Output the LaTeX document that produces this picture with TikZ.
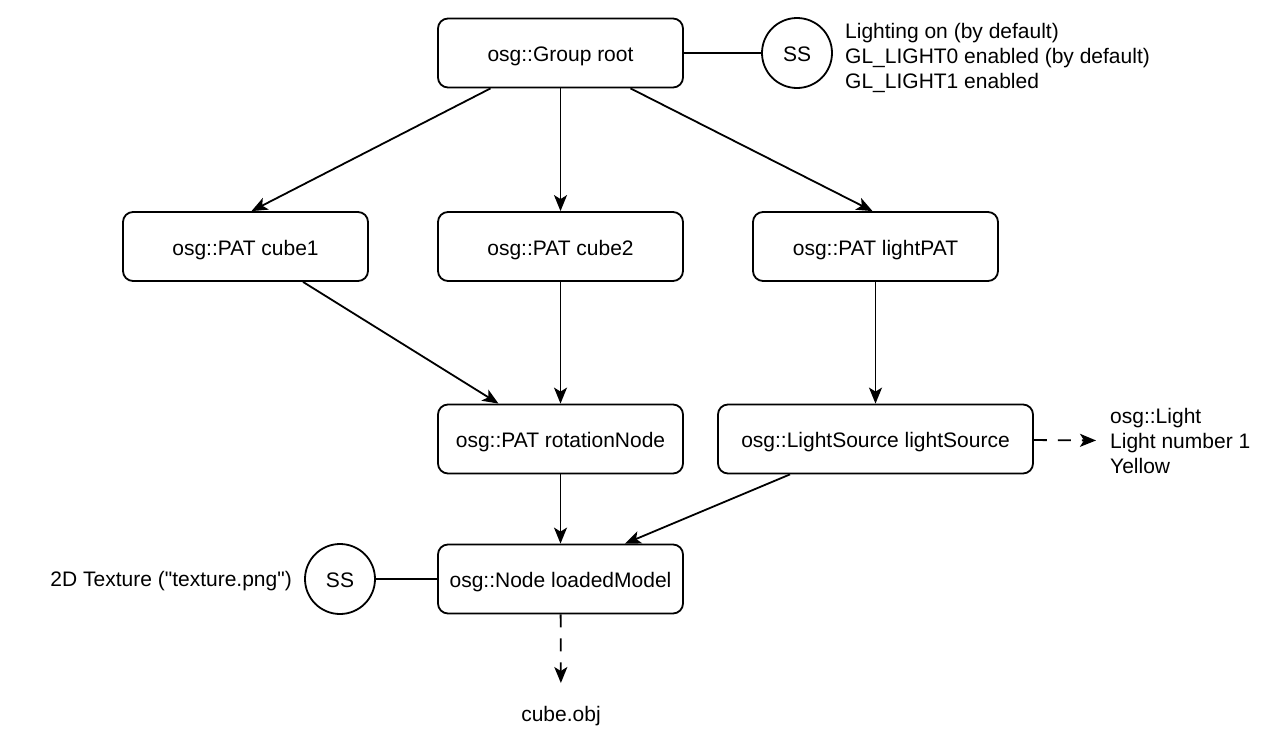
\documentclass[tikz,border=0pt]{standalone}
\usepackage{fontspec}
\setmainfont{Liberation Sans}
\usetikzlibrary{arrows.meta}

\newlength{\du}
\setlength{\du}{1pt}
\newcommand{\rechtq}{\XeTeXglyph\XeTeXcharglyph"22\relax}

\tikzset{
  blok/.style={draw, rounded corners=10\du, line width=1.8\du, minimum width=245\du,
    minimum height=69\du, inner sep=0pt, text height=19\du, text depth=2\du,
    font=\fontsize{21}{25}\selectfont},
  ssnode/.style={draw, circle, line width=1.8\du, minimum size=70\du, inner sep=0pt,
    text height=19\du, text depth=2\du, font=\fontsize{21}{25}\selectfont},
  info/.style={inner sep=0pt, align=left, font=\fontsize{21}{25}\selectfont},
  pijl/.style={line width=1.8\du, -{Stealth[length=16pt, width=13pt, inset=4pt]}},
  lijn/.style={line width=1.8\du},
  streep/.style={pijl, dash pattern=on 13\du off 11\du}
}

\begin{document}
\begin{tikzpicture}
\pgftransformxscale{1.000000}
\pgftransformyscale{-1.000000}
\useasboundingbox (0\du,0\du) rectangle (1288\du,755\du);

% boxes
\node[blok] (root) at (560.5\du,53\du) {osg::Group root};
\node[blok] (cube1) at (245.5\du,246.5\du) {osg::PAT cube1};
\node[blok] (cube2) at (560.5\du,246.5\du) {osg::PAT cube2};
\node[blok] (lightpat) at (875.5\du,246.5\du) {osg::PAT lightPAT};
\node[blok] (rotnode) at (560.5\du,439\du) {osg::PAT rotationNode};
\node[blok, minimum width=315\du] (lightsrc) at (875.5\du,439\du) {osg::LightSource lightSource};
\node[blok] (model) at (560.5\du,579\du) {osg::Node loadedModel};

% state sets
\node[ssnode] (ssroot) at (797\du,53\du) {SS};
\node[ssnode] (sstex) at (340\du,579\du) {SS};

% texts
\node[info, anchor=west] (rootinfo) at (845\du,57.5\du)
  {Lighting on (by default)\\GL\_LIGHT0 enabled (by default)\\GL\_LIGHT1 enabled};
\node[info, anchor=west, inner xsep=14\du] (lightinfo) at (1096\du,441\du)
  {osg::Light\\Light number 1\\Yellow};
\node[info, anchor=east] (texinfo) at (292\du,581\du) {2D Texture (\rechtq texture.png\rechtq)};
\node[info, inner sep=23\du] (obj) at (561\du,716\du) {cube.obj};

% edges
\draw[pijl] ([xshift=-70\du]root.south) -- ([xshift=6\du]cube1.north);
\draw[pijl] (root) -- (cube2);
\draw[pijl] ([xshift=70\du]root.south) -- ([xshift=-3\du]lightpat.north);
\draw[pijl] ([xshift=57.5\du]cube1.south) -- ([xshift=-62\du]rotnode.north);
\draw[pijl] (cube2) -- (rotnode);
\draw[pijl] (lightpat) -- (lightsrc);
\draw[pijl] (rotnode) -- (model);
\draw[pijl] ([xshift=-85.5\du]lightsrc.south) -- ([xshift=64.5\du]model.north);
\draw[streep] (model) -- (obj);
\draw[streep] (lightsrc) -- (lightinfo);
\draw[lijn] (root) -- (ssroot);
\draw[lijn] (sstex) -- (model);
\end{tikzpicture}
\end{document}
